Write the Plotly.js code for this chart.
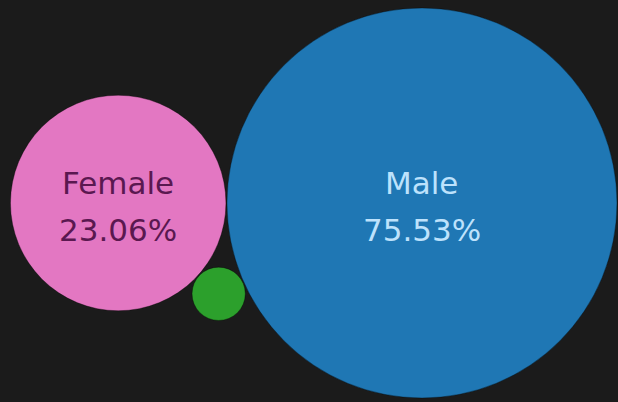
<!DOCTYPE html>
<html>
<head>
<meta charset="utf-8">
<script src="https://cdn.plot.ly/plotly-3.0.1.min.js"></script>
<style>html,body{margin:0;padding:0;background:#1b1b1b;}#chart{width:618px;height:402px;}</style>
</head>
<body>
<div id="chart"></div>
<script>
// Data
var categories = ["Male", "Female", "Other"];
var shares = [75.53, 23.06, 1.41];
var showLabel = [true, true, false];
var colors = ["#1f77b4", "#e377c2", "#2ca02c"];
var textColors = ["#bde2fc", "#5a1850", "#1b1b1b"];

// Packed-bubble layout (pixel-based coordinate system)
var W = 618, H = 402;
var K = 22.44;        // px radius per sqrt(percent)
var gap = 1;
var r = shares.map(function (v) { return K * Math.sqrt(v); });

var cM = { x: W - 1 - r[0], y: H / 2 + 2 };
var d = r[0] + r[1] + gap;
var cF = { x: cM.x - d, y: cM.y };
var d1 = r[0] + r[2] + gap, d2 = r[1] + r[2] + gap;
var a = (d2 * d2 - d1 * d1 + d * d) / (2 * d);
var h = Math.sqrt(Math.max(0, d2 * d2 - a * a));
var cO = { x: cF.x + a, y: cF.y + h };
var centers = [cM, cF, cO];

var trace = {
  type: "scatter",
  mode: "markers",
  x: centers.map(function (c) { return c.x; }),
  y: centers.map(function (c) { return c.y; }),
  marker: {
    size: r.map(function (v) { return 2 * v; }),
    sizemode: "diameter",
    sizeref: 1,
    color: colors,
    opacity: 1,
    line: { width: 1, color: "rgba(0,0,0,0.35)" }
  },
  hoverinfo: "skip",
  cliponaxis: false
};

var annotations = [];
categories.forEach(function (c, i) {
  if (!showLabel[i]) return;
  var f = { family: "DejaVu Sans", size: 31, color: textColors[i] };
  annotations.push({
    x: centers[i].x, y: centers[i].y, xref: "x", yref: "y",
    text: c, showarrow: false, font: f,
    xanchor: "center", yanchor: "middle", yshift: 20
  });
  annotations.push({
    x: centers[i].x, y: centers[i].y, xref: "x", yref: "y",
    text: shares[i].toFixed(2) + "%", showarrow: false, font: f,
    xanchor: "center", yanchor: "middle", yshift: -27
  });
});

var layout = {
  width: W, height: H,
  margin: { l: 0, r: 0, t: 0, b: 0, pad: 0 },
  paper_bgcolor: "#1b1b1b",
  plot_bgcolor: "#1b1b1b",
  showlegend: false,
  xaxis: { range: [0, W], visible: false, fixedrange: true },
  yaxis: { range: [H, 0], visible: false, fixedrange: true },
  annotations: annotations
};

Plotly.newPlot("chart", [trace], layout, { displayModeBar: false, staticPlot: true });
</script>
</body>
</html>
